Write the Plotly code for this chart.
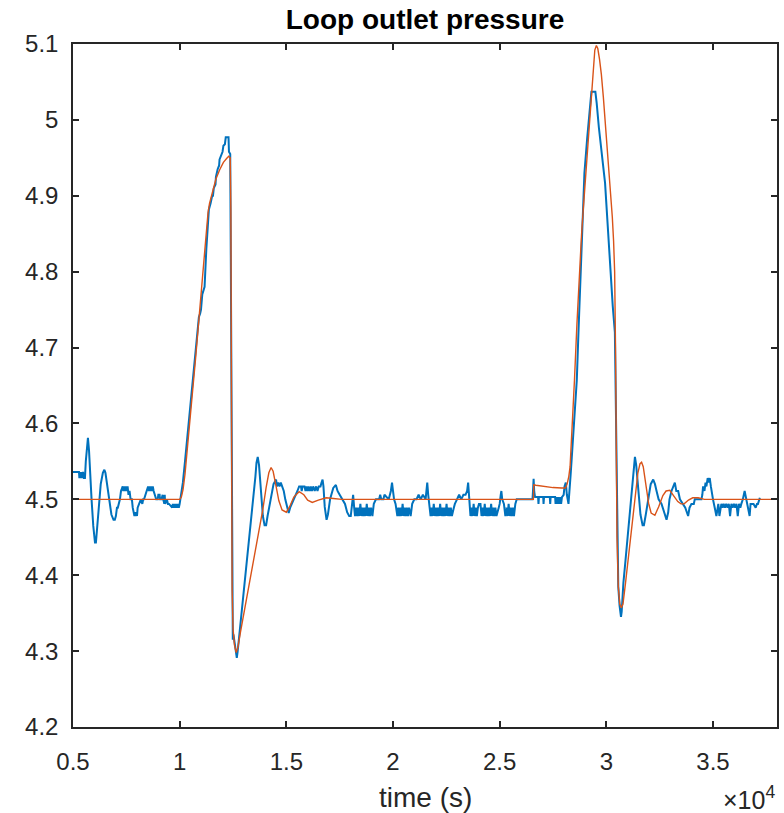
import plotly.graph_objects as go

# ---------------- data (time in s, pressure) ----------------
blue_pre_step = [
    (5000, 4.536), (5280, 4.536), (5300, 4.528), (5330, 4.536), (5360, 4.528), (5390, 4.536),
    (5430, 4.528), (5470, 4.536), (5510, 4.528), (5560, 4.528), (5600, 4.55), (5650, 4.572),
    (5700, 4.581), (5750, 4.565), (5800, 4.53), (5870, 4.5), (5950, 4.465), (6030, 4.443),
    (6075, 4.443), (6130, 4.46), (6200, 4.49), (6300, 4.52), (6400, 4.535), (6470, 4.539),
    (6520, 4.535), (6600, 4.52), (6700, 4.5), (6800, 4.48), (6900, 4.473), (6960, 4.473),
    (7010, 4.478), (7060, 4.489), (7100, 4.489), (7150, 4.494), (7200, 4.5), (7250, 4.511),
    (7300, 4.517), (7330, 4.517), (7360, 4.511), (7380, 4.517), (7420, 4.511), (7440, 4.517),
    (7480, 4.511), (7500, 4.517), (7540, 4.511), (7560, 4.517), (7600, 4.506), (7650, 4.511),
    (7700, 4.5), (7760, 4.5), (7800, 4.489), (7850, 4.483), (7880, 4.478), (7910, 4.483),
    (7940, 4.478), (7970, 4.483), (8000, 4.478), (8030, 4.489), (8100, 4.494), (8180, 4.5),
    (8250, 4.494), (8290, 4.5), (8330, 4.5), (8400, 4.506), (8450, 4.511), (8520, 4.517),
    (8560, 4.511), (8590, 4.517), (8630, 4.511), (8660, 4.517), (8700, 4.511), (8740, 4.517),
    (8780, 4.511), (8830, 4.506), (8900, 4.5), (8970, 4.5), (9000, 4.506), (9060, 4.506),
    (9080, 4.5), (9150, 4.5), (9200, 4.506), (9230, 4.5), (9280, 4.494), (9300, 4.506),
    (9320, 4.494), (9400, 4.5), (9450, 4.494), (9500, 4.494), (9650, 4.489), (9680, 4.494),
    (9720, 4.489), (9760, 4.494), (9800, 4.489), (9840, 4.494), (9880, 4.489), (9920, 4.494),
    (9960, 4.489), (10000, 4.494),
]

blue_step1 = [
    (10030, 4.5), (10080, 4.506), (10150, 4.522), (10250, 4.55), (10350, 4.58), (10450, 4.61),
    (10550, 4.64), (10650, 4.67), (10750, 4.70), (10850, 4.725), (10900, 4.74), (10960, 4.745),
    (11000, 4.75), (11060, 4.77), (11120, 4.775), (11168, 4.78), (11250, 4.83), (11320, 4.865),
    (11370, 4.882), (11450, 4.89), (11524, 4.90), (11560, 4.90), (11600, 4.91), (11680, 4.915),
    (11700, 4.925), (11780, 4.935), (11850, 4.94), (11870, 4.948), (11950, 4.955), (12010, 4.958),
    (12050, 4.966), (12120, 4.968), (12160, 4.977), (12290, 4.977), (12310, 4.958), (12370, 4.955),
    (12400, 4.8), (12430, 4.55), (12460, 4.33), (12490, 4.315), (12520, 4.322), (12560, 4.315),
    (12620, 4.30), (12678, 4.291), (12720, 4.30),
]

blue_settle1 = [
    (13000, 4.375), (13300, 4.455), (13550, 4.53), (13600, 4.548), (13659, 4.556), (13720, 4.545),
    (13800, 4.51), (13900, 4.478), (13980, 4.466), (14052, 4.466), (14120, 4.478), (14250, 4.5),
    (14400, 4.52), (14519, 4.526), (14560, 4.517), (14620, 4.522), (14680, 4.517), (14740, 4.522),
    (14800, 4.517), (14880, 4.511), (14950, 4.5), (15030, 4.489), (15110, 4.482), (15180, 4.489),
    (15260, 4.494), (15375, 4.5), (15450, 4.506), (15520, 4.511), (15600, 4.517), (15686, 4.517),
    (15720, 4.511), (15760, 4.517), (15850, 4.517), (15900, 4.511), (15940, 4.517), (16000, 4.511),
    (16040, 4.517), (16100, 4.511), (16150, 4.517), (16200, 4.511), (16260, 4.517), (16330, 4.511),
    (16400, 4.517), (16460, 4.511), (16520, 4.517), (16600, 4.517), (16650, 4.522), (16699, 4.526),
    (16740, 4.517), (16800, 4.49), (16886, 4.473), (16950, 4.48), (17050, 4.5), (17200, 4.515),
    (17322, 4.519), (17400, 4.511), (17500, 4.506), (17634, 4.5), (17750, 4.494), (17850, 4.483),
    (17946, 4.478), (18020, 4.478), (18080, 4.494), (18131, 4.506), (18180, 4.489),
]

blue_steady = [
    (18220, 4.478), (18270, 4.489), (18320, 4.478), (18370, 4.489), (18420, 4.478), (18470, 4.494),
    (18520, 4.478), (18570, 4.489), (18620, 4.478), (18670, 4.489), (18720, 4.478), (18770, 4.494),
    (18820, 4.478), (18870, 4.489), (18920, 4.478), (18970, 4.489), (19035, 4.478), (19100, 4.494),
    (19200, 4.5), (19350, 4.5), (19400, 4.506), (19450, 4.5), (19550, 4.5), (19600, 4.506),
    (19800, 4.5), (19900, 4.511), (19954, 4.522), (20000, 4.511), (20050, 4.5), (20120, 4.494),
    (20204, 4.478), (20250, 4.489), (20300, 4.478), (20350, 4.489), (20400, 4.478), (20450, 4.494),
    (20500, 4.478), (20550, 4.489), (20600, 4.478), (20650, 4.489), (20700, 4.478), (20750, 4.489),
    (20827, 4.478), (20900, 4.494), (21000, 4.5), (21100, 4.5), (21200, 4.506), (21300, 4.5),
    (21400, 4.506), (21528, 4.5), (21580, 4.511), (21606, 4.522), (21650, 4.506), (21700, 4.494),
    (21762, 4.478), (21810, 4.489), (21860, 4.478), (21910, 4.494), (21960, 4.478), (22010, 4.489),
    (22060, 4.478), (22110, 4.489), (22160, 4.478), (22210, 4.494), (22260, 4.478), (22310, 4.489),
    (22360, 4.478), (22410, 4.489), (22460, 4.478), (22510, 4.494), (22560, 4.478), (22610, 4.489),
    (22660, 4.478), (22710, 4.489), (22760, 4.478), (22852, 4.489), (22900, 4.494), (23000, 4.5),
    (23100, 4.506), (23200, 4.5), (23300, 4.506), (23400, 4.506), (23475, 4.511), (23522, 4.522),
    (23570, 4.506), (23631, 4.478), (23680, 4.489), (23730, 4.478), (23780, 4.494), (23830, 4.478),
    (23880, 4.489), (23930, 4.478), (23980, 4.489), (24030, 4.494), (24100, 4.494), (24150, 4.478),
    (24200, 4.489), (24250, 4.478), (24300, 4.494), (24350, 4.478), (24400, 4.489), (24450, 4.478),
    (24500, 4.489), (24550, 4.478), (24600, 4.494), (24650, 4.478), (24700, 4.489), (24750, 4.478),
    (24800, 4.489), (24850, 4.478), (24955, 4.489), (25000, 4.494), (25050, 4.506), (25080, 4.511),
    (25120, 4.5), (25200, 4.494), (25267, 4.478), (25320, 4.489), (25370, 4.478), (25420, 4.494),
    (25470, 4.478), (25520, 4.489), (25570, 4.478), (25620, 4.489), (25670, 4.478), (25734, 4.494),
    (25800, 4.5), (26000, 4.5), (26200, 4.5), (26400, 4.5), (26540, 4.5), (26570, 4.515),
    (26591, 4.527), (26620, 4.51), (26660, 4.503), (26800, 4.503), (26820, 4.494), (26840, 4.503),
    (27040, 4.503), (27057, 4.494), (27080, 4.503), (27350, 4.503), (27369, 4.494), (27390, 4.503),
    (27600, 4.503), (27620, 4.494), (27650, 4.503), (27700, 4.494), (27740, 4.503), (27800, 4.494),
    (27840, 4.503), (27880, 4.494), (27920, 4.503), (28000, 4.506), (28040, 4.517), (28100, 4.522),
    (28150, 4.506), (28226, 4.494), (28280, 4.511),
]

blue_step2 = [
    (28320, 4.53), (28380, 4.555), (28450, 4.59), (28520, 4.622), (28615, 4.657), (28700, 4.725),
    (28810, 4.80), (28890, 4.87), (28973, 4.93), (29100, 4.975), (29206, 5.009), (29270, 5.02),
    (29300, 5.037), (29486, 5.037), (29500, 5.03), (29548, 5.022), (29650, 4.99), (29782, 4.96),
    (29860, 4.94), (29940, 4.917), (30000, 4.89), (30095, 4.842), (30200, 4.795), (30300, 4.755),
    (30400, 4.72), (30450, 4.6), (30500, 4.45), (30560, 4.385), (30620, 4.36), (30687, 4.345),
    (30720, 4.352),
]

blue_settle2 = [
    (30800, 4.39), (30900, 4.42), (31030, 4.46), (31150, 4.5), (31250, 4.535), (31300, 4.55),
    (31341, 4.556), (31400, 4.545), (31497, 4.515), (31600, 4.48), (31700, 4.466), (31762, 4.466),
    (31850, 4.48), (31965, 4.5), (32080, 4.52), (32198, 4.526), (32280, 4.52), (32354, 4.511),
    (32450, 4.5), (32588, 4.494), (32700, 4.483), (32822, 4.473), (32900, 4.483), (32960, 4.5),
    (33055, 4.511), (33130, 4.517), (33211, 4.522), (33280, 4.511), (33367, 4.511), (33450, 4.5),
    (33601, 4.494), (33700, 4.489), (33834, 4.478), (33900, 4.489), (33990, 4.494), (34100, 4.494),
    (34146, 4.5), (34457, 4.5), (34500, 4.506), (34535, 4.517), (34600, 4.511), (34650, 4.522),
    (34691, 4.517), (34750, 4.528), (34800, 4.522), (34847, 4.528), (34900, 4.517), (34925, 4.511),
    (35000, 4.5), (35081, 4.489), (35159, 4.478), (35250, 4.494), (35300, 4.478), (35392, 4.494),
    (35450, 4.489), (35500, 4.494), (35560, 4.489), (35620, 4.494), (35680, 4.489), (35740, 4.494),
    (35800, 4.478), (35860, 4.494), (35920, 4.489), (35980, 4.494), (36040, 4.489), (36100, 4.494),
    (36160, 4.478), (36220, 4.494), (36280, 4.489), (36327, 4.494), (36400, 4.5), (36483, 4.511),
    (36550, 4.5), (36650, 4.489), (36717, 4.478), (36760, 4.494), (36900, 4.494), (37000, 4.489),
    (37060, 4.494), (37107, 4.494), (37150, 4.5), (37197, 4.502),
]

red_model = [
    (5000, 4.5), (10000, 4.5), (10080, 4.503), (10160, 4.513), (10250, 4.533), (10350, 4.562),
    (10450, 4.593), (10550, 4.624), (10650, 4.655), (10750, 4.687), (10850, 4.72), (10950, 4.755),
    (11050, 4.79), (11150, 4.825), (11250, 4.857), (11330, 4.878), (11400, 4.89), (11470, 4.898),
    (11550, 4.907), (11700, 4.922), (11870, 4.934), (12050, 4.944), (12200, 4.949), (12300, 4.952),
    (12370, 4.95), (12400, 4.88), (12420, 4.7), (12440, 4.5), (12460, 4.38), (12500, 4.33),
    (12570, 4.308), (12650, 4.298), (12730, 4.305), (12850, 4.325), (13000, 4.348), (13200, 4.378),
    (13427, 4.41), (13650, 4.445), (13894, 4.486), (14050, 4.515), (14180, 4.535), (14285, 4.542),
    (14380, 4.537), (14500, 4.52), (14650, 4.498), (14800, 4.486), (15000, 4.483), (15150, 4.49),
    (15350, 4.503), (15600, 4.51), (15820, 4.506), (16000, 4.499), (16215, 4.496), (16500, 4.499),
    (16869, 4.502), (17200, 4.501), (17600, 4.5), (26580, 4.5), (26600, 4.519), (26700, 4.5185),
    (27000, 4.517), (27500, 4.5155), (27900, 4.515), (28085, 4.515), (28160, 4.52), (28240, 4.53),
    (28300, 4.543), (28400, 4.595), (28506, 4.657), (28620, 4.73), (28740, 4.80), (28840, 4.85),
    (28926, 4.885), (29066, 4.943), (29160, 4.98), (29253, 5.017), (29330, 5.052), (29393, 5.077),
    (29460, 5.092), (29533, 5.098), (29600, 5.094), (29680, 5.08), (29767, 5.06), (29860, 5.03),
    (29954, 4.996), (30070, 4.955), (30188, 4.912), (30280, 4.872), (30340, 4.84), (30390, 4.8),
    (30430, 4.7), (30460, 4.57), (30500, 4.45), (30560, 4.385), (30630, 4.362), (30702, 4.357),
    (30780, 4.362), (30900, 4.39), (31050, 4.428), (31217, 4.465), (31350, 4.505), (31480, 4.535),
    (31580, 4.547), (31653, 4.549), (31730, 4.543), (31850, 4.52), (31980, 4.495), (32100, 4.482),
    (32276, 4.479), (32450, 4.49), (32650, 4.505), (32800, 4.511), (32977, 4.512), (33150, 4.505),
    (33350, 4.497), (33500, 4.494), (33647, 4.494), (33850, 4.499), (34050, 4.502), (34302, 4.502),
    (34600, 4.5), (38000, 4.5),
]

x_tick_vals = [5000, 10000, 15000, 20000, 25000, 30000, 35000]
x_tick_text = ["0.5", "1", "1.5", "2", "2.5", "3", "3.5"]
y_tick_vals = [4.2, 4.3, 4.4, 4.5, 4.6, 4.7, 4.8, 4.9, 5.0, 5.1]
y_tick_text = ["4.2", "4.3", "4.4", "4.5", "4.6", "4.7", "4.8", "4.9", "5", "5.1"]

title_text = "Loop outlet pressure"
x_label = "time (s)"
x_exponent = "×10<sup>4</sup>"

# ---------------- figure ----------------
blue_all = blue_pre_step + blue_step1 + blue_settle1 + blue_steady + blue_step2 + blue_settle2
bt = [p[0] for p in blue_all]
bv = [p[1] for p in blue_all]
rt = [p[0] for p in red_model]
rv = [p[1] for p in red_model]

FONT = "Liberation Sans, Arial, Helvetica, sans-serif"
AX = "#262626"

fig = go.Figure()
fig.add_trace(go.Scatter(x=bt, y=bv, mode="lines",
                         line=dict(color="#0072BD", width=2), showlegend=False))
fig.add_trace(go.Scatter(x=rt, y=rv, mode="lines",
                         line=dict(color="#D95319", width=1.4), showlegend=False))

axis_common = dict(showline=True, linecolor=AX, linewidth=1.5, mirror="ticks",
                   ticks="inside", ticklen=6, tickwidth=1.5, tickcolor=AX,
                   showgrid=False, zeroline=False,
                   tickfont=dict(family=FONT, size=24, color=AX))

fig.update_xaxes(range=[5000, 38000], tickvals=x_tick_vals, ticktext=x_tick_text,
                 ticklabelstandoff=12, **axis_common)
fig.update_yaxes(range=[4.2, 5.1], tickvals=y_tick_vals, ticktext=y_tick_text,
                 ticklabelstandoff=8, **axis_common)

fig.update_layout(
    width=784, height=813,
    margin=dict(l=73, r=5, t=44, b=86),
    paper_bgcolor="white", plot_bgcolor="white",
    title=dict(text="<b>" + title_text + "</b>", x=0.5, xref="paper",
               y=1 - 19 / 813, yref="container", yanchor="middle", xanchor="center",
               font=dict(family=FONT, size=28, color="black")),
    annotations=[
        dict(text=x_label, x=0.5, xref="paper", y=-(797 - 727) / 683, yref="paper",
             xanchor="center", yanchor="middle", showarrow=False,
             font=dict(family=FONT, size=28, color=AX)),
        dict(text=x_exponent, x=1.0, xref="paper", y=-(798 - 727) / 683, yref="paper",
             xanchor="right", yanchor="middle", showarrow=False,
             font=dict(family=FONT, size=25, color=AX)),
    ],
)

fig.write_html("out.html", config={"displayModeBar": False},
               post_script="document.body.style.margin='0';document.body.style.overflow='hidden';")
